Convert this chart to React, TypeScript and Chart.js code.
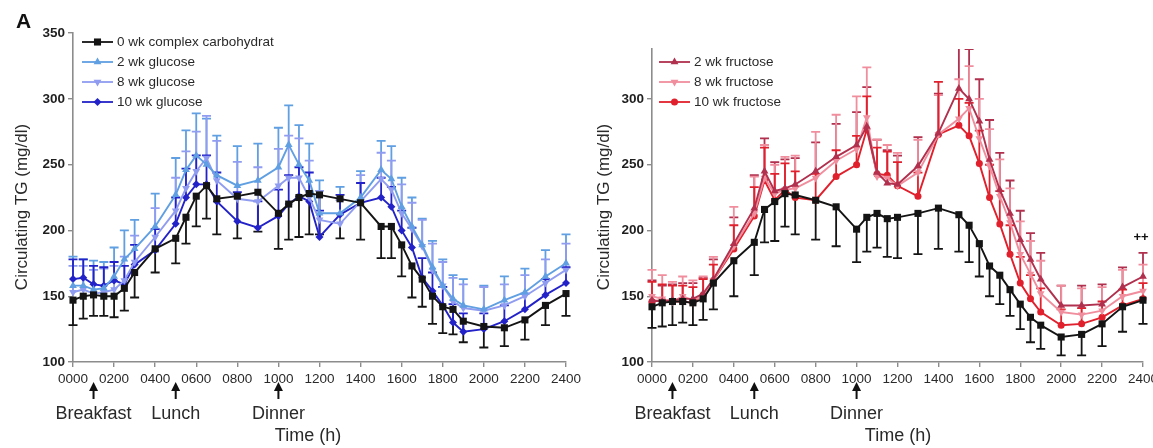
import { useEffect, useRef } from "react";
import { Chart, registerables } from "chart.js";
Chart.register(...registerables);

// ---------- data ----------
const hours = [0, 0.5, 1, 1.5, 2, 2.5, 3, 4, 5, 5.5, 6, 6.5, 7, 8, 9, 10, 10.5, 11, 11.5, 12, 13, 14, 15, 15.5, 16, 16.5, 17, 17.5, 18, 18.5, 19, 20, 21, 22, 23, 24];

const xTickValues = [0, 2, 4, 6, 8, 10, 12, 14, 16, 18, 20, 22, 24];
const xTickLabels = ["0000", "0200", "0400", "0600", "0800", "1000", "1200", "1400", "1600", "1800", "2000", "2200", "2400"];
const leftYTicks = [100, 150, 200, 250, 300, 350];
const rightYTicks = [100, 150, 200, 250, 300];

const mealHours = [1, 5, 10];
const mealLabels = ["Breakfast", "Lunch", "Dinner"];

// left panel: glucose
const ctrlLeft = [147, 150, 151, 150, 150, 156, 168, 186, 194, 210, 226, 234, 224, 226, 229, 213, 220, 225, 228, 227, 224, 221, 203, 203, 189, 173, 163, 150, 142, 140, 131, 127, 126, 132, 143, 152];
const ctrlLeftErr = [19, 17, 16, 15, 16, 17, 19, 18, 19, 20, 23, 25, 27, 32, 30, 27, 27, 30, 31, 30, 30, 28, 24, 24, 24, 24, 21, 21, 20, 19, 16, 16, 14, 15, 15, 17];
const glu2 = [158, 158, 155, 156, 165, 178, 186, 203, 227, 246, 257, 250, 242, 234, 238, 248, 265, 250, 238, 213, 213, 225, 246, 239, 218, 203, 189, 172, 158, 148, 143, 140, 147, 153, 165, 175];
const glu2Err = [22, 20, 22, 20, 22, 22, 22, 25, 28, 30, 32, 35, 30, 30, 28, 30, 30, 30, 28, 25, 20, 20, 22, 25, 22, 22, 20, 20, 20, 18, 20, 18, 18, 18, 20, 22];
const glu8 = [153, 155, 152, 153, 155, 162, 176, 195, 215, 232, 245, 255, 238, 224, 222, 234, 240, 240, 225, 208, 205, 222, 239, 231, 213, 201, 188, 170, 158, 146, 141, 139, 143, 150, 160, 170];
const glu8Err = [20, 18, 18, 18, 18, 18, 20, 22, 25, 28, 30, 32, 30, 28, 26, 28, 32, 30, 28, 22, 18, 20, 20, 22, 22, 20, 20, 20, 18, 18, 18, 18, 16, 16, 18, 20];
const glu10 = [163, 164, 159, 158, 162, 159, 174, 185, 205, 225, 235, 235, 222, 207, 202, 211, 220, 226, 222, 195, 212, 221, 225, 218, 200, 187, 164, 154, 143, 130, 123, 125, 131, 140, 151, 160];
const glu10Err = [15, 14, 14, 14, 14, 14, 15, 16, 20, 22, 22, 22, 22, 22, 20, 20, 22, 22, 22, 20, 15, 15, 15, 15, 15, 15, 15, 14, 14, 14, 14, 12, 12, 12, 12, 12];

// right panel: fructose
const ctrlRight = [142, 145, 146, 146, 145, 148, 160, 177, 191, 216, 222, 228, 227, 223, 218, 201, 210, 213, 209, 210, 213, 217, 212, 204, 190, 173, 166, 155, 144, 134, 128, 119, 121, 129, 142, 147];
const ctrlRightErr = [16, 18, 18, 16, 17, 16, 20, 27, 25, 25, 30, 25, 30, 30, 30, 25, 26, 26, 29, 31, 31, 31, 28, 28, 25, 23, 22, 20, 19, 19, 18, 14, 16, 17, 19, 18];
const fru2 = [147, 146, 147, 148, 148, 152, 163, 190, 217, 245, 230, 232, 235, 245, 256, 265, 279, 244, 236, 235, 249, 274, 308, 300, 283, 254, 231, 213, 193, 178, 163, 143, 143, 144, 157, 165];
const fru2Err = [15, 12, 12, 12, 12, 12, 15, 20, 25, 25, 22, 22, 20, 22, 25, 25, 30, 25, 25, 22, 22, 30, 35, 38, 32, 30, 28, 25, 22, 20, 20, 15, 15, 15, 15, 18];
const fru8 = [150, 148, 146, 150, 147, 150, 162, 188, 213, 240, 228, 231, 232, 240, 253, 262, 286, 241, 240, 234, 244, 273, 285, 293, 270, 249, 226, 206, 182, 167, 152, 138, 136, 139, 150, 154];
const fru8Err = [20, 18, 15, 15, 15, 15, 18, 30, 28, 25, 22, 25, 25, 35, 35, 40, 38, 28, 25, 25, 25, 30, 30, 32, 30, 28, 28, 26, 25, 25, 25, 20, 20, 18, 20, 20];
const fru10 = [146, 147, 146, 146, 145, 151, 162, 186, 211, 238, 223, 231, 225, 223, 241, 250, 277, 243, 242, 234, 226, 273, 280, 272, 251, 225, 205, 182, 160, 148, 138, 128, 129, 134, 143, 148];
const fru10Err = [15, 12, 12, 12, 12, 12, 12, 18, 22, 25, 20, 20, 20, 20, 20, 22, 25, 20, 18, 18, 18, 40, 20, 25, 25, 25, 25, 22, 20, 18, 18, 12, 12, 12, 12, 12];

const leftNames = ["0 wk complex carbohydrat", "2 wk glucose", "8 wk glucose", "10 wk glucose"];
const rightNames = ["2 wk fructose", "8 wk fructose", "10 wk fructose"];

// ---------- styling ----------
const FONT = "'Liberation Sans', Arial, sans-serif";
const C_BLACK = "#141414";
const C_GLU2 = "#5f9fe2";
const C_GLU8 = "#8f9cf0";
const C_GLU10 = "#2222c8";
const C_FRU2 = "#b0304e";
const C_FRU8 = "#f08e9e";
const C_FRU10 = "#e0202c";
const AXIS = "#8c8c8c";

type Series = { label: string; values: number[]; errs: number[]; dir: number; color: string; style: string; rot: number; r: number; legend: boolean };

function drawMarker(ctx: CanvasRenderingContext2D, style: string, rot: number, x: number, y: number, r: number, color: string) {
  ctx.save();
  ctx.fillStyle = color;
  ctx.beginPath();
  if (style === "rect") {
    const s = r * Math.SQRT1_2;
    ctx.rect(x - s, y - s, 2 * s, 2 * s);
  } else if (style === "rectRot") {
    ctx.moveTo(x, y - r);
    ctx.lineTo(x + r, y);
    ctx.lineTo(x, y + r);
    ctx.lineTo(x - r, y);
    ctx.closePath();
  } else if (style === "triangle") {
    const a0 = (rot * Math.PI) / 180;
    for (let k = 0; k < 3; k++) {
      const a = a0 + (k * 2 * Math.PI) / 3;
      const px = x + Math.sin(a) * r;
      const py = y - Math.cos(a) * r;
      if (k === 0) ctx.moveTo(px, py);
      else ctx.lineTo(px, py);
    }
    ctx.closePath();
  } else {
    ctx.arc(x, y, r, 0, Math.PI * 2);
  }
  ctx.fill();
  ctx.restore();
}

const errorBarPlugin = {
  id: "errorBars",
  beforeDatasetsDraw(chart: any) {
    const { ctx, chartArea, scales } = chart;
    const xs = scales.x;
    const ys = scales.y;
    ctx.save();
    ctx.beginPath();
    ctx.rect(chartArea.left - 8, chartArea.top, chartArea.right - chartArea.left + 16, chartArea.bottom - chartArea.top + 1);
    ctx.clip();
    chart.data.datasets.forEach((ds: any) => {
      if (!ds.errs) return;
      ctx.strokeStyle = ds.borderColor;
      ctx.lineWidth = 1.8;
      ds.data.forEach((p: any, i: number) => {
        const px = xs.getPixelForValue(p.x);
        const py = ys.getPixelForValue(p.y);
        const ey = ys.getPixelForValue(p.y + ds.dir * ds.errs[i]);
        ctx.beginPath();
        ctx.moveTo(px, py);
        ctx.lineTo(px, ey);
        ctx.moveTo(px - 4.5, ey);
        ctx.lineTo(px + 4.5, ey);
        ctx.stroke();
      });
    });
    ctx.restore();
  },
};

function makeOverlayPlugin(opts: { legend: Series[]; legendX: number; legendY: number; titleX: number; timeX: number; panelLetter: boolean; plusplus: boolean }) {
  return {
    id: "overlay",
    afterDraw(chart: any) {
      const { ctx, scales } = chart;
      const xs = scales.x;
      const ys = scales.y;
      ctx.save();
      // legend
      opts.legend.forEach((s, i) => {
        const y = opts.legendY + i * 20;
        ctx.strokeStyle = s.color;
        ctx.lineWidth = 1.8;
        ctx.beginPath();
        ctx.moveTo(opts.legendX, y);
        ctx.lineTo(opts.legendX + 31, y);
        ctx.stroke();
        drawMarker(ctx, s.style, s.rot, opts.legendX + 15.5, y, s.r, s.color);
        ctx.fillStyle = "#2a2a2a";
        ctx.font = `13.5px ${FONT}`;
        ctx.textAlign = "left";
        ctx.textBaseline = "middle";
        ctx.fillText(s.label, opts.legendX + 35, y + 0.5);
      });
      // y title
      ctx.save();
      ctx.translate(opts.titleX, 207);
      ctx.rotate(-Math.PI / 2);
      ctx.fillStyle = "#2a2a2a";
      ctx.font = `17px ${FONT}`;
      ctx.textAlign = "center";
      ctx.textBaseline = "middle";
      ctx.fillText("Circulating TG (mg/dl)", 0, 0);
      ctx.restore();
      // meal arrows and labels
      mealHours.forEach((h, i) => {
        const x = xs.getPixelForValue(h);
        ctx.fillStyle = "#111";
        ctx.beginPath();
        ctx.moveTo(x, 382);
        ctx.lineTo(x + 4.5, 391);
        ctx.lineTo(x - 4.5, 391);
        ctx.closePath();
        ctx.fill();
        ctx.fillRect(x - 1, 390, 2, 9);
        ctx.fillStyle = "#2a2a2a";
        ctx.font = `18px ${FONT}`;
        ctx.textAlign = "center";
        ctx.textBaseline = "middle";
        ctx.fillText(mealLabels[i], x, 414);
      });
      // x title
      ctx.fillStyle = "#2a2a2a";
      ctx.font = `18px ${FONT}`;
      ctx.textAlign = "center";
      ctx.textBaseline = "middle";
      ctx.fillText("Time (h)", opts.timeX, 436);
      if (opts.panelLetter) {
        ctx.fillStyle = "#111";
        ctx.font = `bold 21px ${FONT}`;
        ctx.textAlign = "left";
        ctx.textBaseline = "alphabetic";
        ctx.fillText("A", 16, 28);
      }
      if (opts.plusplus) {
        ctx.fillStyle = "#111";
        ctx.font = `bold 13px ${FONT}`;
        ctx.textAlign = "center";
        ctx.textBaseline = "middle";
        ctx.fillText("++", xs.getPixelForValue(24) - 2, ys.getPixelForValue(195));
      }
      ctx.restore();
    },
  };
}

function buildConfig(series: Series[], yMax: number, yTicks: number[], padding: any, overlay: any) {
  return {
    type: "line" as const,
    data: {
      datasets: series.map((s) => ({
        label: s.label,
        data: hours.map((h, i) => ({ x: h, y: s.values[i] })),
        errs: s.errs,
        dir: s.dir,
        borderColor: s.color,
        backgroundColor: s.color,
        borderWidth: 1.9,
        pointStyle: s.style,
        pointRotation: s.rot,
        pointRadius: s.r,
        pointBorderWidth: 0,
        pointBackgroundColor: s.color,
        tension: 0,
        clip: 10,
      })),
    },
    options: {
      responsive: true,
      maintainAspectRatio: false,
      animation: false,
      events: [],
      layout: { padding },
      plugins: { legend: { display: false }, tooltip: { enabled: false } },
      scales: {
        x: {
          type: "linear",
          min: 0,
          max: 24,
          afterBuildTicks: (s: any) => {
            s.ticks = xTickValues.map((v) => ({ value: v }));
          },
          afterFit: (s: any) => {
            s.height = 86;
            s.paddingLeft = 0;
            s.paddingRight = 0;
          },
          ticks: {
            autoSkip: false,
            maxRotation: 0,
            padding: 4,
            color: "#2a2a2a",
            font: { family: FONT, size: 13.5 },
            callback: (v: any) => {
              const i = xTickValues.indexOf(Number(v));
              return i >= 0 ? xTickLabels[i] : "";
            },
          },
          grid: { display: true, drawOnChartArea: false, drawTicks: true, tickLength: 5, color: AXIS, lineWidth: 1.4 },
          border: { display: true, color: AXIS, width: 1.6 },
        },
        y: {
          type: "linear",
          min: 100,
          max: yMax,
          afterBuildTicks: (s: any) => {
            s.ticks = yTicks.map((v) => ({ value: v }));
          },
          afterFit: (s: any) => {
            s.width = 40;
            s.paddingTop = 0;
            s.paddingBottom = 0;
          },
          ticks: {
            padding: 3,
            color: "#1e1e1e",
            font: { family: FONT, size: 13.5, weight: "bold" },
            callback: (v: any) => String(v),
          },
          grid: { display: true, drawOnChartArea: false, drawTicks: true, tickLength: 5, color: AXIS, lineWidth: 1.4 },
          border: { display: true, color: AXIS, width: 1.6 },
        },
      },
    },
    plugins: [errorBarPlugin, overlay],
  };
}

const leftSeries: Series[] = [
  { label: leftNames[0], values: ctrlLeft, errs: ctrlLeftErr, dir: -1, color: C_BLACK, style: "rect", rot: 0, r: 5, legend: true },
  { label: leftNames[1], values: glu2, errs: glu2Err, dir: 1, color: C_GLU2, style: "triangle", rot: 0, r: 4.5, legend: true },
  { label: leftNames[2], values: glu8, errs: glu8Err, dir: 1, color: C_GLU8, style: "triangle", rot: 180, r: 4.5, legend: true },
  { label: leftNames[3], values: glu10, errs: glu10Err, dir: 1, color: C_GLU10, style: "rectRot", rot: 0, r: 4, legend: true },
];

const rightSeries: Series[] = [
  { label: "0 wk complex carbohydrate", values: ctrlRight, errs: ctrlRightErr, dir: -1, color: C_BLACK, style: "rect", rot: 0, r: 5, legend: false },
  { label: rightNames[0], values: fru2, errs: fru2Err, dir: 1, color: C_FRU2, style: "triangle", rot: 0, r: 4.5, legend: true },
  { label: rightNames[1], values: fru8, errs: fru8Err, dir: 1, color: C_FRU8, style: "triangle", rot: 180, r: 4.5, legend: true },
  { label: rightNames[2], values: fru10, errs: fru10Err, dir: 1, color: C_FRU10, style: "circle", rot: 0, r: 3.5, legend: true },
];

export default function App() {
  const leftRef = useRef<HTMLCanvasElement | null>(null);
  const rightRef = useRef<HTMLCanvasElement | null>(null);

  useEffect(() => {
    const leftOverlay = makeOverlayPlugin({
      legend: leftSeries.filter((s) => s.legend),
      legendX: 82,
      legendY: 42,
      titleX: 22,
      timeX: 308,
      panelLetter: true,
      plusplus: false,
    });
    const rightOverlay = makeOverlayPlugin({
      legend: rightSeries.filter((s) => s.legend),
      legendX: 659,
      legendY: 62,
      titleX: 604,
      timeX: 898,
      panelLetter: false,
      plusplus: true,
    });
    const c1 = new Chart(leftRef.current as HTMLCanvasElement, buildConfig(leftSeries, 350, leftYTicks, { left: 33, right: 587, top: 33, bottom: 0 }, leftOverlay) as any);
    const c2 = new Chart(rightRef.current as HTMLCanvasElement, buildConfig(rightSeries, 338, rightYTicks, { left: 612, right: 10, top: 49, bottom: 0 }, rightOverlay) as any);
    return () => {
      c1.destroy();
      c2.destroy();
    };
  }, []);

  const layer: React.CSSProperties = { position: "absolute", left: 0, top: 0, width: 1153, height: 448 };
  return (
    <div style={{ position: "fixed", left: 0, top: 0, width: 1153, height: 448, background: "#fff", overflow: "hidden" }}>
      <div style={layer}>
        <canvas ref={leftRef} />
      </div>
      <div style={layer}>
        <canvas ref={rightRef} />
      </div>
    </div>
  );
}
